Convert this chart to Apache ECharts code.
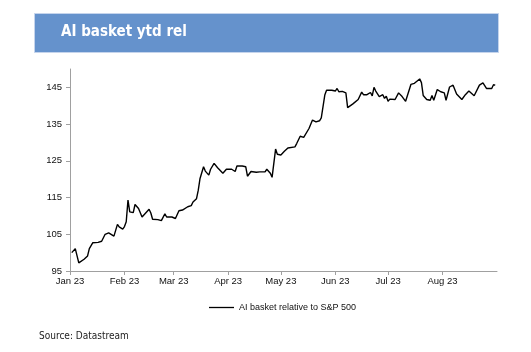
<!DOCTYPE html>
<html>
<head>
<meta charset="utf-8">
<script src="https://cdn.jsdelivr.net/npm/echarts@6/dist/echarts.min.js"></script>
<style>
html,body{margin:0;padding:0;background:#fff;}
#c{width:531px;height:352px;}
</style>
</head>
<body>
<div id="c"></div>
<script>
var titleText = 'AI basket ytd rel';
var seriesName = 'AI basket relative to S&P 500';
var sourceText = 'Source: Datastream';

var dates = [
'2023-01-02','2023-01-03','2023-01-04','2023-01-06','2023-01-07','2023-01-09','2023-01-11','2023-01-12','2023-01-14','2023-01-17',
'2023-01-18','2023-01-19','2023-01-20','2023-01-21','2023-01-23','2023-01-24','2023-01-26','2023-01-28','2023-01-29','2023-01-31',
'2023-02-01','2023-02-02','2023-02-03','2023-02-04','2023-02-06','2023-02-07','2023-02-09','2023-02-11','2023-02-15','2023-02-16',
'2023-02-17','2023-02-20','2023-02-22','2023-02-24','2023-02-25','2023-02-28','2023-03-01','2023-03-02','2023-03-04','2023-03-06',
'2023-03-07','2023-03-09','2023-03-10','2023-03-11','2023-03-12','2023-03-14','2023-03-15','2023-03-16','2023-03-18','2023-03-19',
'2023-03-21','2023-03-22','2023-03-24','2023-03-26','2023-03-29','2023-03-31','2023-04-01','2023-04-03','2023-04-04','2023-04-05',
'2023-04-06','2023-04-09','2023-04-11','2023-04-12','2023-04-14','2023-04-17','2023-04-19','2023-04-20','2023-04-22','2023-04-23',
'2023-04-25','2023-04-26','2023-04-28','2023-04-29','2023-05-01','2023-05-03','2023-05-05','2023-05-09','2023-05-10','2023-05-12',
'2023-05-14','2023-05-15','2023-05-17','2023-05-18','2023-05-19','2023-05-21','2023-05-23','2023-05-24','2023-05-26','2023-05-27',
'2023-05-30','2023-05-31','2023-06-01','2023-06-02','2023-06-03','2023-06-05','2023-06-07','2023-06-08','2023-06-11','2023-06-14',
'2023-06-16','2023-06-17','2023-06-19','2023-06-21','2023-06-22','2023-06-23','2023-06-24','2023-06-26','2023-06-28','2023-06-29',
'2023-06-30','2023-07-01','2023-07-02','2023-07-05','2023-07-07','2023-07-09','2023-07-11','2023-07-14','2023-07-16','2023-07-17',
'2023-07-19','2023-07-20','2023-07-21','2023-07-23','2023-07-25','2023-07-26','2023-07-27','2023-07-29','2023-07-31','2023-08-02',
'2023-08-03','2023-08-05','2023-08-07','2023-08-08','2023-08-09','2023-08-10','2023-08-12','2023-08-14','2023-08-16','2023-08-19',
'2023-08-22','2023-08-24','2023-08-26','2023-08-29','2023-08-30','2023-08-31'
];
var values = [
100.0,100.1,101.1,97.2,97.1,98.2,99.1,101.1,102.7,102.8,
102.9,103.1,102.7,105.0,105.4,105.6,104.5,107.7,107.0,106.4,
107.1,108.4,114.3,111.1,110.9,113.1,112.0,109.7,111.8,110.8,
109.1,109.0,108.7,110.6,109.7,109.7,110.2,109.3,111.4,111.6,
111.5,112.5,112.8,112.8,113.8,114.7,117.0,120.2,123.4,122.2,
121.1,122.7,124.3,123.1,121.6,122.7,123.1,122.7,123.2,122.1,
123.6,123.6,123.4,120.8,122.1,121.9,122.0,122.5,122.0,122.7,
121.6,120.5,128.2,126.8,126.6,127.6,128.5,128.8,129.7,131.7,
131.4,131.5,133.8,134.3,136.1,135.6,135.9,136.7,142.9,144.2,
144.2,144.6,144.0,144.7,143.8,143.9,143.5,139.5,140.5,141.7,
143.7,143.0,143.0,143.6,142.7,145.0,144.0,142.5,143.0,142.0,
142.6,141.2,141.8,141.7,143.5,142.5,141.2,145.8,146.1,145.9,
147.3,146.3,142.8,141.7,141.5,142.8,141.5,144.4,143.8,143.5,
141.5,145.1,145.6,145.7,143.2,142.7,141.7,143.0,144.0,142.7,
145.6,146.2,144.7,144.7,145.7,145.6
];
var monthStarts = ['2023-01-01','2023-02-01','2023-03-01','2023-04-01','2023-05-01','2023-06-01','2023-07-01','2023-08-01'];
var monthLabels = ['Jan 23','Feb 23','Mar 23','Apr 23','May 23','Jun 23','Jul 23','Aug 23'];
var yTicks = [95,105,115,125,135,145];
var xStart = '2023-01-01';
var xEnd = '2023-09-01';

function dayOffset(s){
  return (Date.parse(s + 'T00:00:00Z') - Date.parse(xStart + 'T00:00:00Z')) / 86400000;
}
var seriesData = dates.map(function(d, i){ return [dayOffset(d), values[i]]; });
var monthPos = monthStarts.map(dayOffset);
var labelMap = {};
monthPos.forEach(function(p, i){ labelMap[p] = monthLabels[i]; });

var axisFont = 'Liberation Sans';
var chart = echarts.init(document.getElementById('c'), null, {renderer: 'canvas'});
chart.setOption({
  animation: false,
  backgroundColor: '#ffffff',
  graphic: [
    {type: 'rect', left: 34, top: 13, shape: {width: 464, height: 39},
     style: {fill: '#6592cc', stroke: '#c5d4ec', lineWidth: 1}},
    {type: 'text', left: 61, top: 25,
     style: {text: titleText, fill: '#ffffff', font: "bold 15px 'DejaVu Sans Condensed', 'DejaVu Sans', sans-serif"}},
    {type: 'text', left: 39, top: 331,
     style: {text: sourceText, fill: '#222222', font: "10px 'DejaVu Sans Condensed', 'DejaVu Sans', sans-serif"}}
  ],
  grid: {left: 70, right: 34, top: 69, bottom: 81, containLabel: false},
  legend: {
    data: [seriesName], left: 204, top: 298, itemWidth: 25, itemHeight: 1.3, itemGap: 4,
    icon: 'rect', itemStyle: {color: '#000000'},
    textStyle: {fontFamily: axisFont, fontSize: 9, color: '#111111'}
  },
  xAxis: {
    type: 'value', min: 0, max: dayOffset(xEnd),
    splitLine: {show: false},
    axisLine: {show: true, lineStyle: {color: '#a0a0a0', width: 1}},
    axisTick: {show: true, length: 4, lineStyle: {color: '#a0a0a0'}, customValues: monthPos},
    axisLabel: {
      customValues: monthPos, margin: 5,
      fontFamily: axisFont, fontSize: 9.5, color: '#111111',
      formatter: function(v){ return labelMap[v] || ''; }
    }
  },
  yAxis: {
    type: 'value', min: 95, max: 150,
    splitLine: {show: false},
    axisLine: {show: true, lineStyle: {color: '#a0a0a0', width: 1}},
    axisTick: {show: true, length: 4, lineStyle: {color: '#a0a0a0'}, customValues: yTicks},
    axisLabel: {customValues: yTicks, margin: 8, fontFamily: axisFont, fontSize: 9.5, color: '#111111'}
  },
  series: [{
    name: seriesName, type: 'line', data: seriesData, symbol: 'none',
    lineStyle: {color: '#000000', width: 1.4}, itemStyle: {color: '#000000'}
  }]
});
</script>
</body>
</html>
